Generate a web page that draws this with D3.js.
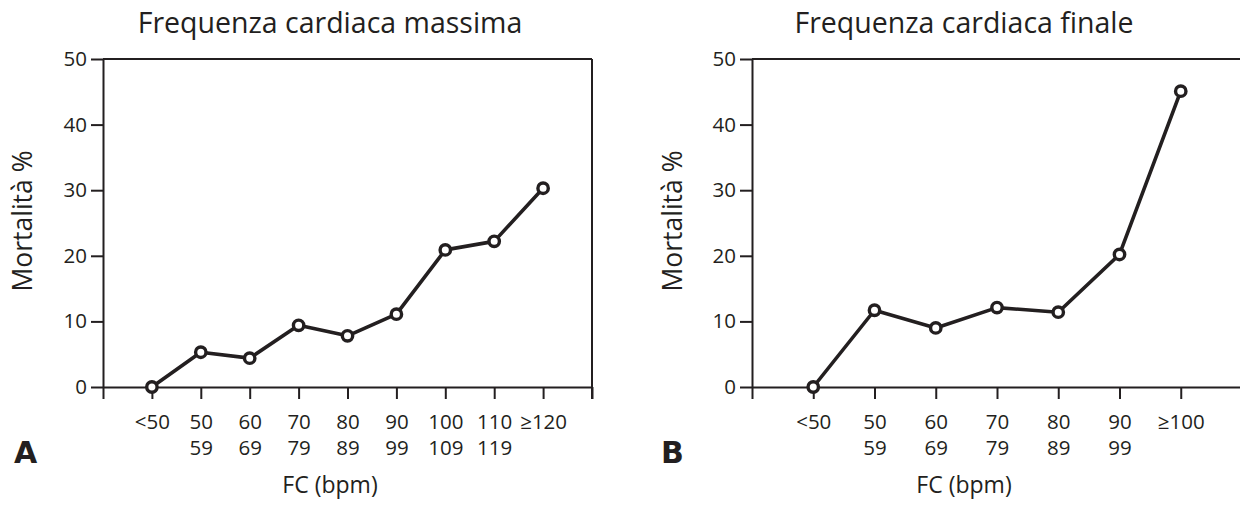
<!DOCTYPE html>
<html>
<head>
<meta charset="utf-8">
<script src="https://cdn.jsdelivr.net/npm/d3@7"></script>
<style>
  body { margin: 0; background: #fff; }
  text { font-family: "Open Sans", sans-serif; fill: #231f20; }
</style>
</head>
<body>
<div id="chart"></div>
<script>
// data
const ticksA = [["<50"], ["50", "59"], ["60", "69"], ["70", "79"], ["80", "89"], ["90", "99"], ["100", "109"], ["110", "119"], ["\u2265120"]];
const valuesA = [0, 5.3, 4.4, 9.4, 7.8, 11.1, 20.9, 22.2, 30.3];

const ticksB = [["<50"], ["50", "59"], ["60", "69"], ["70", "79"], ["80", "89"], ["90", "99"], ["\u2265100"]];
const valuesB = [0, 11.7, 9.0, 12.1, 11.4, 20.2, 45.1];

const yTicks = [0, 10, 20, 30, 40, 50];
const titleA = "Frequenza cardiaca massima";
const titleB = "Frequenza cardiaca finale";
const yLabel = "Mortalit\u00e0 %";
const xLabel = "FC (bpm)";

const W = 1240, H = 510;
const ink = "#231f20";

const svg = d3.select("#chart").append("svg")
  .attr("width", W)
  .attr("height", H);

// same y scale for both panels
const y = d3.scaleLinear().domain([0, 50]).range([387, 59]);

function panel(opts) {
  const n = opts.values.length;
  const x = d3.scaleLinear()
    .domain([0, n + 1])
    .range([opts.left, opts.right]);

  const g = svg.append("g").style("color", ink);

  // frame: top + right
  g.append("line")
    .attr("x1", x(0)).attr("x2", x(n + 1))
    .attr("y1", y(50)).attr("y2", y(50))
    .attr("stroke", ink).attr("stroke-width", 2);
  g.append("line")
    .attr("x1", x(n + 1)).attr("x2", x(n + 1))
    .attr("y1", y(50)).attr("y2", y(0) + 12)
    .attr("stroke", ink).attr("stroke-width", 2);

  // y axis
  const gy = g.append("g")
    .attr("transform", `translate(${x(0)},0)`)
    .call(d3.axisLeft(y).tickValues(yTicks).tickSize(12).tickSizeOuter(0).tickPadding(4));
  gy.selectAll("path, line").attr("stroke-width", 2);
  gy.selectAll("text").style("font-family", "Open Sans").style("font-size", "20.5px").attr("fill", ink);

  // x axis
  const gx = g.append("g")
    .attr("transform", `translate(0,${y(0)})`)
    .call(d3.axisBottom(x).tickValues(d3.range(0, n + 2)).tickSize(12).tickSizeOuter(0).tickFormat(() => ""));
  gx.selectAll("path, line").attr("stroke-width", 2);

  gx.selectAll(".tick text")
    .filter(d => d >= 1 && d <= n)
    .attr("y", 42)
    .attr("dy", 0)
    .style("font-family", "Open Sans")
    .style("font-size", "20.5px")
    .attr("fill", ink)
    .each(function(d) {
      const t = d3.select(this);
      opts.ticks[d - 1].forEach((s, i) => {
        t.append("tspan").attr("x", 0).attr("dy", i === 0 ? 0 : 26).text(s);
      });
    });

  // line + markers
  const line = d3.line()
    .x((d, i) => x(i + 1))
    .y(d => y(d));

  g.append("path")
    .datum(opts.values)
    .attr("fill", "none")
    .attr("stroke", ink)
    .attr("stroke-width", 3.6)
    .attr("stroke-linejoin", "round")
    .attr("d", line);

  g.selectAll(".dot")
    .data(opts.values)
    .join("circle")
    .attr("class", "dot")
    .attr("cx", (d, i) => x(i + 1))
    .attr("cy", d => y(d))
    .attr("r", 5.2)
    .attr("fill", "#fff")
    .attr("stroke", ink)
    .attr("stroke-width", 3.4);

  // titles
  g.append("text")
    .attr("x", opts.cx).attr("y", 33)
    .attr("text-anchor", "middle")
    .style("font-size", "28.5px")
    .text(opts.title);

  g.append("text")
    .attr("x", opts.cx).attr("y", 493)
    .attr("text-anchor", "middle")
    .style("font-size", "23px")
    .text(xLabel);

  g.append("text")
    .attr("transform", `translate(${opts.ylx},221) rotate(-90)`)
    .attr("text-anchor", "middle")
    .attr("dy", "0.35em")
    .style("font-size", "26.5px")
    .text(yLabel);

  g.append("text")
    .attr("x", opts.letterX).attr("y", 463)
    .style("font-family", "DejaVu Sans")
    .style("font-weight", "bold")
    .style("font-size", "30px")
    .text(opts.letter);
}

panel({ values: valuesA, ticks: ticksA, left: 103, right: 592, cx: 330, ylx: 23, title: titleA, letter: "A", letterX: 14 });
panel({ values: valuesB, ticks: ticksB, left: 752, right: 1242, cx: 964, ylx: 673, title: titleB, letter: "B", letterX: 661 });
</script>
</body>
</html>
